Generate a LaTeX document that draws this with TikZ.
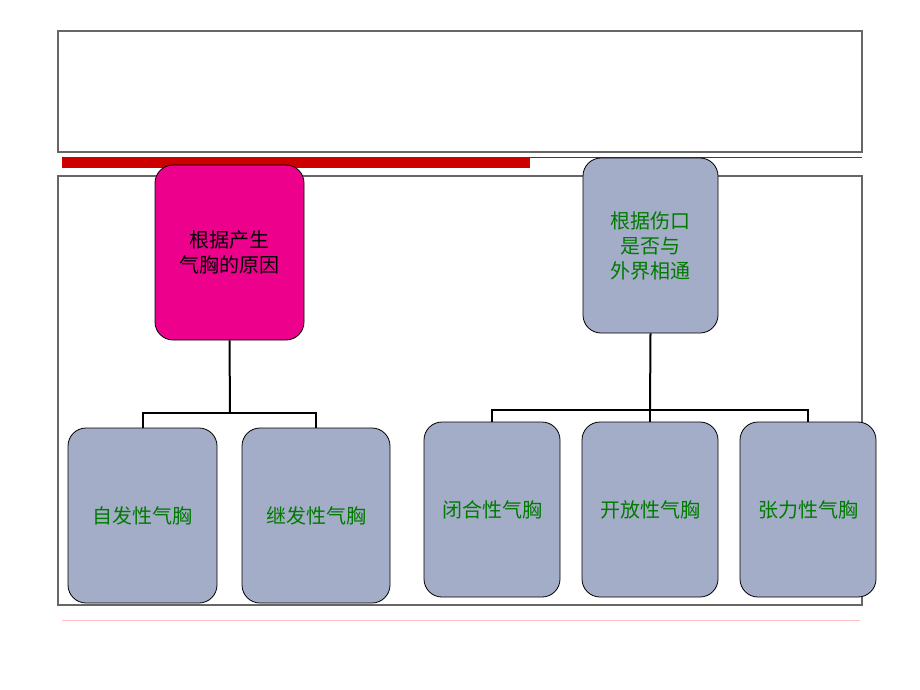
\documentclass[tikz,border=0pt]{standalone}
\usepackage{fontspec}
\newfontfamily\cjk{Noto Sans CJK SC}
\usetikzlibrary{positioning}
\definecolor{boxgray}{HTML}{A3ADC8}
\definecolor{textgreen}{HTML}{007A00}
\definecolor{barred}{HTML}{CC0000}

\begin{document}
\begin{tikzpicture}[
		x=1pt, y=-1pt,
		topic/.style = {
			rectangle, rounded corners=18pt, draw=black, thick,
			align=center, font=\cjk\fontsize{20}{25}\selectfont
		},
		kind/.style = {
			topic, fill=boxgray, text=textgreen,
			minimum width=149pt, minimum height=175pt
		},
		kindnarrow/.style = {
			kind, minimum width=136pt
		},
		link/.style = {draw=black, line width=2pt}
	]
	\useasboundingbox (0,0) rectangle (920,690);
	\fill[white] (0,0) rectangle (920,690);
	% frames and bars
	\draw[gray!80!black, line width=1.2pt] (58,31) rectangle (862,152);
	\fill[barred] (62,157) rectangle (530,168);
	\draw[barred, line width=0.8pt] (530,157) -- (862,157);
	\draw[gray!80!black, line width=1.2pt] (58,176) rectangle (862,605);
	\draw[red!25, line width=1pt] (62,620) -- (860,620);
	% heads
	\node[topic, fill=magenta, minimum width=149pt, minimum height=175pt]
		(cause) at (229.5,252.5) {根据产生\\气胸的原因};
	\node[topic, fill=boxgray, text=textgreen, minimum width=135pt, minimum height=175pt]
		(wound) at (650.5,245.5) {根据伤口\\是否与\\外界相通};
	% leaves
	\node[kind] (spont) at (142.5,515.5) {自发性气胸};
	\node[kind, minimum width=148pt] (second) at (316,515.5) {继发性气胸};
	\node[kindnarrow] (closed) at (492,509.5) {闭合性气胸};
	\node[kindnarrow] (open) at (650,509.5) {开放性气胸};
	\node[kindnarrow] (tension) at (808,509.5) {张力性气胸};
	% connectors
	\coordinate (lj) at (230,413);
	\coordinate (rj) at (650,410);
	\draw[link] (cause.south) -- (lj);
	\draw[link] (spont.north) |- (lj) -| (second.north);
	\draw[link] (wound.south) -- (rj);
	\draw[link] (closed.north) |- (rj) -| (tension.north);
	\draw[link] (rj) -- (open.north);
\end{tikzpicture}
\end{document}
